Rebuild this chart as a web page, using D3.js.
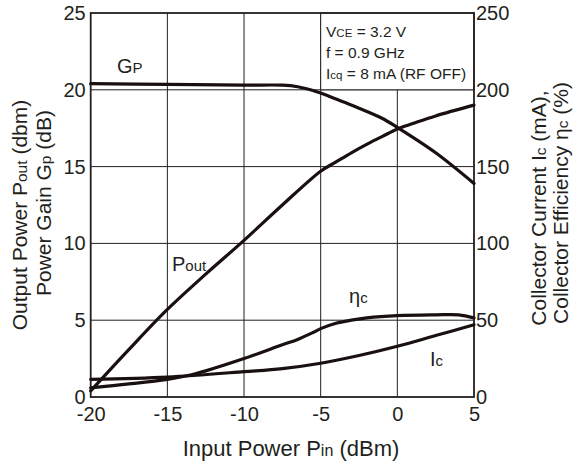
<!DOCTYPE html>
<html>
<head>
<meta charset="utf-8">
<script src="https://cdn.jsdelivr.net/npm/d3@7"></script>
<style>
  body { margin: 0; background: #fff; }
  svg { font-family: "Liberation Sans", Arial, sans-serif; fill: #231f20; }
</style>
</head>
<body>
<svg id="chart" width="576" height="468"></svg>
<script>
// input power (dBm) sample points for each curve
const gpPin = [-20, -15, -10, -7.5, -6.5, -5.5, -4.5, -3.5, -2.5, -1, 0, 2.5, 5];
const gpVals = [20.4, 20.35, 20.3, 20.3, 20.2, 19.95, 19.6, 19.2, 18.8, 18.15, 17.55, 15.9, 13.9];

const poutPin = [-20, -17.5, -15, -12.5, -10, -7.5, -5, -4, -3, -2, -1, 0, 1, 2.5, 5];
const poutVals = [0.4, 3.1, 5.7, 8.0, 10.2, 12.5, 14.7, 15.3, 15.9, 16.45, 16.95, 17.45, 17.8, 18.3, 19.0];

const icPin = [-20, -15, -10, -7.5, -5, -2.5, 0, 2.5, 5];
const icVals = [11.5, 13, 16.5, 18.5, 22, 27, 33, 40, 47];

const etaPin = [-20, -17.5, -15, -13.5, -12.5, -10, -7.5, -6.5, -5.5, -5, -4, -3, -2, 0, 2.5, 4, 5];
const etaVals = [6, 8.5, 11.5, 14.3, 17, 25, 34, 37.5, 42, 44.5, 48, 50, 51.5, 53, 53.5, 53.5, 51.5];

const xTicks = [-20, -15, -10, -5, 0, 5];
const leftTicks = [0, 5, 10, 15, 20, 25];
const rightTicks = [0, 50, 100, 150, 200, 250];

const svg = d3.select("#chart");
const pLeft = 90.7, pRight = 474, pTop = 13, pBottom = 397;
const ink = "#231f20";
const fs = 20, subFs = 15, titleFs = 21;

const x = d3.scaleLinear().domain([-20, 5]).range([pLeft, pRight]);
const yL = d3.scaleLinear().domain([0, 25]).range([pBottom, pTop]);
const yR = d3.scaleLinear().domain([0, 250]).range([pBottom, pTop]);

// grid
svg.append("g").selectAll("line").data(xTicks.slice(1, -1)).join("line")
  .attr("x1", d => x(d)).attr("x2", d => x(d))
  .attr("y1", pTop).attr("y2", pBottom)
  .attr("stroke", ink).attr("stroke-width", 1);
svg.append("g").selectAll("line").data(leftTicks.slice(1, -1)).join("line")
  .attr("x1", pLeft).attr("x2", pRight)
  .attr("y1", d => yL(d)).attr("y2", d => yL(d))
  .attr("stroke", ink).attr("stroke-width", 1);

// condition box covers the grid in the top right corner
svg.append("rect")
  .attr("x", x(-5)).attr("y", pTop)
  .attr("width", pRight - x(-5)).attr("height", yL(20) - pTop)
  .attr("fill", "#fff").attr("stroke", ink).attr("stroke-width", 1);

const cond = svg.append("text").attr("font-size", 15.5).attr("x", 326);
let t = cond.append("tspan").attr("x", 326).attr("y", 37);
t.append("tspan").text("V");
t.append("tspan").attr("font-size", 11.5).text("CE");
t.append("tspan").text(" = 3.2 V");
cond.append("tspan").attr("x", 326).attr("y", 58).text("f = 0.9 GHz");
t = cond.append("tspan").attr("x", 326).attr("y", 79);
t.append("tspan").text("I");
t.append("tspan").attr("font-size", 11.5).text("cq");
t.append("tspan").text(" = 8 mA (RF OFF)");

// frame
svg.append("rect")
  .attr("x", pLeft).attr("y", pTop)
  .attr("width", pRight - pLeft).attr("height", pBottom - pTop)
  .attr("fill", "none").attr("stroke", ink).attr("stroke-width", 1.8);

// tick labels
const styleTicks = g => g.call(s => s.select(".domain").remove())
  .selectAll("text").attr("font-size", fs).attr("fill", ink)
  .attr("font-family", "Liberation Sans, Arial, sans-serif");

svg.append("g").attr("transform", `translate(0,${pBottom})`)
  .call(d3.axisBottom(x).tickValues(xTicks).tickFormat(d => String(d)).tickSize(0).tickPadding(10))
  .call(styleTicks);
svg.append("g").attr("transform", `translate(${pLeft},0)`)
  .call(d3.axisLeft(yL).tickValues(leftTicks).tickFormat(d => String(d)).tickSize(0).tickPadding(5))
  .call(styleTicks);
svg.append("g").attr("transform", `translate(${pRight},0)`)
  .call(d3.axisRight(yR).tickValues(rightTicks).tickFormat(d => String(d)).tickSize(0).tickPadding(2))
  .call(styleTicks);

// curves
const lineL = d3.line().x(d => x(d[0])).y(d => yL(d[1])).curve(d3.curveCatmullRom);
const lineR = d3.line().x(d => x(d[0])).y(d => yR(d[1])).curve(d3.curveCatmullRom);
const curves = [
  [lineL, d3.zip(gpPin, gpVals)],
  [lineL, d3.zip(poutPin, poutVals)],
  [lineR, d3.zip(icPin, icVals)],
  [lineR, d3.zip(etaPin, etaVals)]
];
curves.forEach(([fn, pts]) => {
  svg.append("path").attr("d", fn(pts))
    .attr("fill", "none").attr("stroke", "#1a1010")
    .attr("stroke-width", 3.2).attr("stroke-linecap", "round");
});

// curve labels
const lab = (xp, yp, main, sub) => {
  const tx = svg.append("text").attr("x", xp).attr("y", yp).attr("font-size", fs);
  tx.append("tspan").text(main);
  tx.append("tspan").attr("font-size", subFs).text(sub);
};
lab(117, 73, "G", "P");
lab(172, 271, "P", "out");
lab(349, 303, "η", "c");
lab(430, 366, "I", "c");

// axis titles
const xt = svg.append("text").attr("x", 291).attr("y", 456)
  .attr("text-anchor", "middle").attr("font-size", 22);
xt.append("tspan").text("Input Power P");
xt.append("tspan").attr("font-size", 16).text("in");
xt.append("tspan").text(" (dBm)");

const vTitle = (xp, yp, parts) => {
  const tx = svg.append("text")
    .attr("transform", `translate(${xp},${yp}) rotate(-90)`)
    .attr("text-anchor", "middle").attr("font-size", titleFs);
  parts.forEach(([s, small]) => {
    tx.append("tspan").attr("font-size", small ? 15.5 : titleFs).text(s);
  });
};
vTitle(27, 215, [["Output Power P"], ["out", 1], [" (dbm)"]]);
vTitle(51, 203, [["Power Gain G"], ["p", 1], [" (dB)"]]);
vTitle(546, 208, [["Collector Current I"], ["c", 1], [" (mA),"]]);
vTitle(568, 203, [["Collector Efficiency η"], ["c", 1], [" (%)"]]);
</script>
</body>
</html>
